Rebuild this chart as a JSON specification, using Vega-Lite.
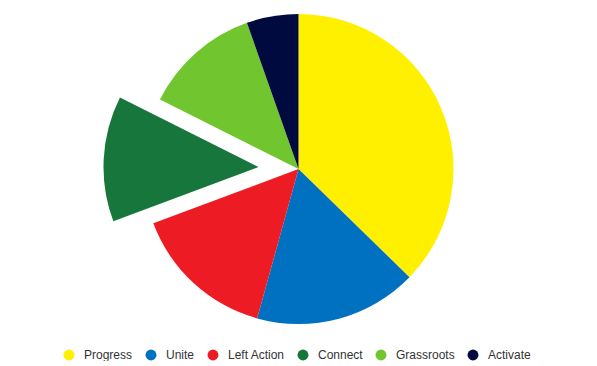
{
  "$schema": "https://vega.github.io/schema/vega-lite/v6.json",
  "width": 597,
  "height": 338,
  "padding": 0,
  "background": "white",
  "data": {
    "values": [
      {"party": "Progress", "idx": 1, "share": 37.3},
      {"party": "Unite", "idx": 2, "share": 17.0},
      {"party": "Left Action", "idx": 3, "share": 15.0},
      {"party": "Connect", "idx": 4, "share": 13.1},
      {"party": "Grassroots", "idx": 5, "share": 12.2},
      {"party": "Activate", "idx": 6, "share": 5.4}
    ]
  },
  "encoding": {
    "theta": {"field": "share", "type": "quantitative", "stack": true},
    "order": {"field": "idx", "type": "quantitative"},
    "color": {
      "field": "party",
      "type": "nominal",
      "scale": {
        "domain": ["Progress", "Unite", "Left Action", "Connect", "Grassroots", "Activate"],
        "range": ["#FFF000", "#0070C0", "#ED1C24", "#16763C", "#71C62F", "#000A3F"]
      },
      "legend": {
        "title": null,
        "orient": "none",
        "legendX": 63,
        "legendY": 349,
        "direction": "horizontal",
        "symbolType": "circle",
        "symbolSize": 120,
        "symbolStrokeWidth": 0,
        "symbolOpacity": 1,
        "labelFont": "Liberation Sans",
        "labelFontSize": 12,
        "labelColor": "#333333",
        "labelOffset": 9,
        "columnPadding": 12
      }
    }
  },
  "layer": [
    {
      "mark": {"type": "arc", "outerRadius": 155},
      "encoding": {
        "opacity": {"condition": {"test": "datum.party === 'Connect'", "value": 0}, "value": 1}
      }
    },
    {
      "mark": {"type": "arc", "outerRadius": 155, "xOffset": -40, "yOffset": -2},
      "encoding": {
        "opacity": {"condition": {"test": "datum.party === 'Connect'", "value": 1}, "value": 0}
      }
    }
  ]
}
